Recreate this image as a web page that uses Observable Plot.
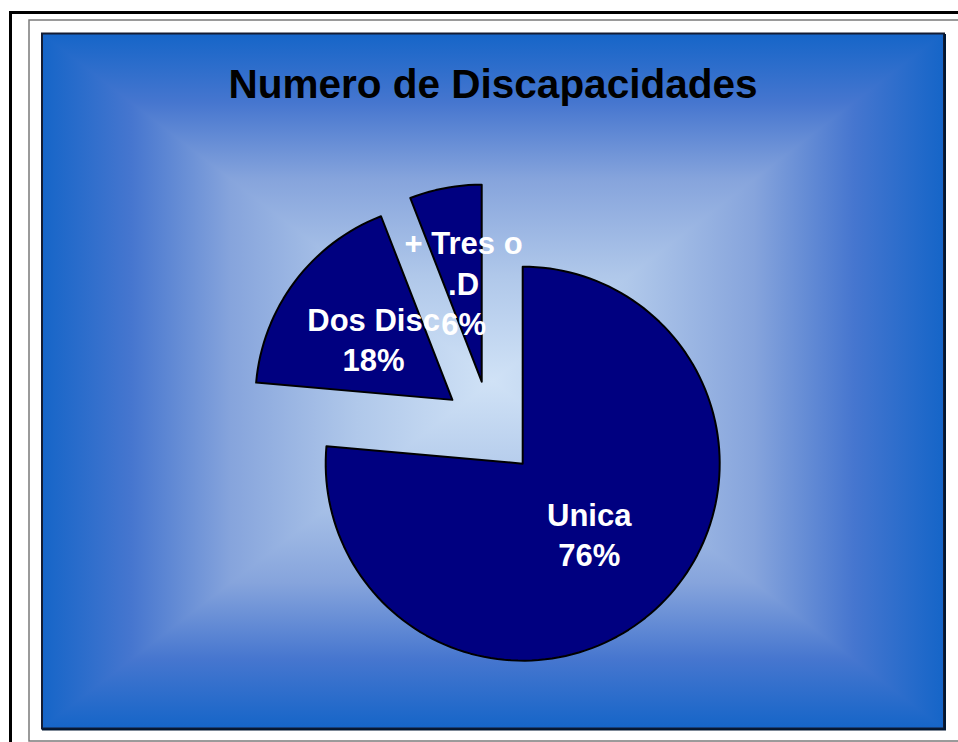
<!DOCTYPE html>
<html>
<head>
<meta charset="utf-8">
<script src="https://cdn.jsdelivr.net/npm/d3@7"></script>
<script src="https://cdn.jsdelivr.net/npm/@observablehq/plot@0.6"></script>
<style>
  body { margin: 0; background: #ffffff; overflow: hidden; }
  #wrap { position: relative; width: 958px; height: 742px; overflow: hidden; font-family: "Liberation Sans", Arial, sans-serif; }
  #bg { position: absolute; left: 0; top: 0; }
  #chart { position: absolute; left: 41px; top: 33px; }
</style>
</head>
<body>
<div id="wrap">
  <svg id="bg" width="958" height="742" xmlns="http://www.w3.org/2000/svg">
    <defs>
      <linearGradient id="gTop" gradientUnits="userSpaceOnUse" x1="0" y1="33" x2="0" y2="381">
        <stop offset="0" stop-color="#1565c8"/><stop offset="0.2" stop-color="#4676cf"/>
        <stop offset="0.42" stop-color="#86a4dc"/><stop offset="0.7" stop-color="#b0c8ea"/>
        <stop offset="1" stop-color="#d0e2f6"/>
      </linearGradient>
      <linearGradient id="gBottom" gradientUnits="userSpaceOnUse" x1="0" y1="729" x2="0" y2="381">
        <stop offset="0" stop-color="#1565c8"/><stop offset="0.2" stop-color="#4676cf"/>
        <stop offset="0.42" stop-color="#86a4dc"/><stop offset="0.7" stop-color="#b0c8ea"/>
        <stop offset="1" stop-color="#d0e2f6"/>
      </linearGradient>
      <linearGradient id="gLeft" gradientUnits="userSpaceOnUse" x1="41" y1="0" x2="492.5" y2="0">
        <stop offset="0" stop-color="#1565c8"/><stop offset="0.2" stop-color="#4676cf"/>
        <stop offset="0.42" stop-color="#86a4dc"/><stop offset="0.7" stop-color="#b0c8ea"/>
        <stop offset="1" stop-color="#d0e2f6"/>
      </linearGradient>
      <linearGradient id="gRight" gradientUnits="userSpaceOnUse" x1="944" y1="0" x2="492.5" y2="0">
        <stop offset="0" stop-color="#1565c8"/><stop offset="0.2" stop-color="#4676cf"/>
        <stop offset="0.42" stop-color="#86a4dc"/><stop offset="0.7" stop-color="#b0c8ea"/>
        <stop offset="1" stop-color="#d0e2f6"/>
      </linearGradient>
    </defs>
    <rect x="10.5" y="12.5" width="1000" height="1000" fill="none" stroke="#000" stroke-width="3"/>
    <rect x="29" y="20" width="1000" height="721" fill="none" stroke="#7a7a7a" stroke-width="1.5"/>
    <g shape-rendering="crispEdges">
      <polygon points="41,33 944,33 492.5,381" fill="url(#gTop)"/>
      <polygon points="41,729 944,729 492.5,381" fill="url(#gBottom)"/>
      <polygon points="41,33 41,729 492.5,381" fill="url(#gLeft)"/>
      <polygon points="944,33 944,729 492.5,381" fill="url(#gRight)"/>
    </g>
    <rect x="42" y="33.5" width="902" height="695" fill="none" stroke="#141c33" stroke-width="2"/>
    <line x1="945" y1="34" x2="945" y2="730" stroke="#001633" stroke-width="2"/>
    <line x1="42" y1="729.5" x2="946" y2="729.5" stroke="#001633" stroke-width="2"/>
    <text x="493" y="98" text-anchor="middle" font-family="Liberation Sans, Arial, sans-serif" font-weight="bold" font-size="40.5" fill="#000">Numero de Discapacidades</text>
  </svg>
  <div id="chart"></div>
</div>
<script>
// ---- data ----
const categories = ["Unica", "Dos Disc", "+ Tres o\n.D"];
const values = [76.4, 17.7, 5.9];
const percentLabels = ["76%", "18%", "6%"];

// ---- layout (pixels) ----
const W = 903, H = 696;          // panel size
const R = 197;                    // pie radius in px
const CX = 449, CY = 395;         // pie centre inside panel
const EXPLODE = 0.242;            // explosion, in radii
const LABEL_R = 0.5;              // label distance from slice apex, in radii

const pie = d3.pie().sort(null).startAngle(0).endAngle(2 * Math.PI)(values);

const slicePoints = [];
const labels = [];
pie.forEach((s, i) => {
  const mid = (s.startAngle + s.endAngle) / 2;
  const ax = EXPLODE * Math.sin(mid), ay = EXPLODE * Math.cos(mid);
  slicePoints.push({slice: i, x: ax, y: ay});
  const n = Math.max(4, Math.ceil((s.endAngle - s.startAngle) / (2 * Math.PI) * 180));
  for (let k = 0; k <= n; k++) {
    const a = s.startAngle + (s.endAngle - s.startAngle) * k / n;
    slicePoints.push({slice: i, x: ax + Math.sin(a), y: ay + Math.cos(a)});
  }
  labels.push({
    x: ax + LABEL_R * Math.sin(mid),
    y: ay + LABEL_R * Math.cos(mid) + 0.015,
    text: categories[i] + "\n" + percentLabels[i]
  });
});

const chart = Plot.plot({
  width: W,
  height: H,
  margin: 0,
  style: {background: "transparent", fontFamily: "Liberation Sans, Arial, sans-serif", overflow: "visible"},
  x: {domain: [-CX / R, (W - CX) / R], axis: null},
  y: {domain: [-(H - CY) / R, CY / R], axis: null},
  marks: [
    Plot.line(slicePoints, {x: "x", y: "y", z: "slice", curve: "linear-closed",
      fill: "#000080", stroke: "#000000", strokeWidth: 2, strokeLinejoin: "round"}),
    Plot.text(labels, {x: "x", y: "y", text: "text", fill: "#ffffff",
      fontSize: 31, fontWeight: "bold", lineHeight: 1.3})
  ]
});
document.getElementById("chart").appendChild(chart);
</script>
</body>
</html>
